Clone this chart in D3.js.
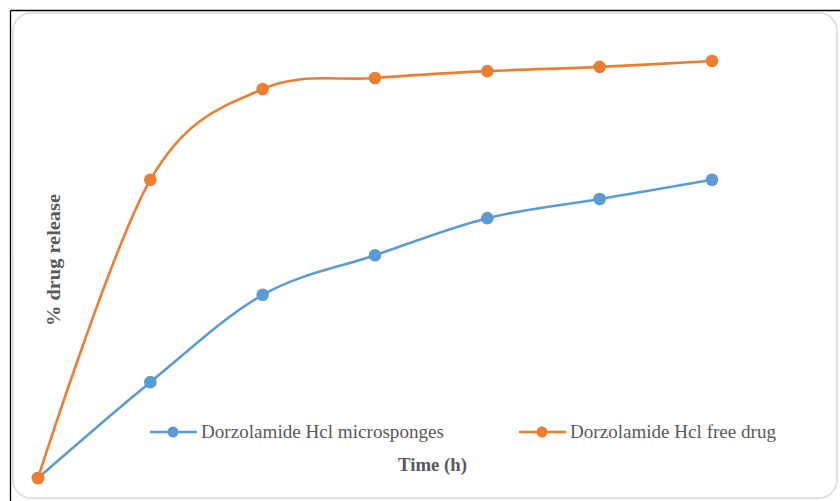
<!DOCTYPE html>
<html>
<head>
<meta charset="utf-8">
<script src="https://cdn.jsdelivr.net/npm/d3@7"></script>
<style>
  html, body { margin: 0; padding: 0; background: #fff; }
  svg { display: block; }
</style>
</head>
<body>
<svg id="chart" width="840" height="501"></svg>
<script>
// Release time points (h)
const hours = [0, 1, 2, 3, 4, 5, 6];
// Cumulative % drug release
const microsponges = [0, 22.5, 43, 52.3, 61, 65.5, 70];
const freeDrug = [0, 70, 91.3, 93.9, 95.5, 96.5, 97.9];
const seriesNames = ["Dorzolamide Hcl microsponges", "Dorzolamide Hcl free drug"];
const seriesColors = ["#5B9BD5", "#ED7D31"];

const svg = d3.select("#chart");
const W = 840, H = 501;

// outer frame lines
svg.append("line").attr("x1", 10.5).attr("x2", W).attr("y1", 10.5).attr("y2", 10.5)
  .attr("stroke", "#000").attr("stroke-width", 1.3);
svg.append("line").attr("x1", 10.5).attr("x2", 10.5).attr("y1", 10.5).attr("y2", H)
  .attr("stroke", "#000").attr("stroke-width", 1.3);

// chart area border
svg.append("rect").attr("x", 13).attr("y", 13).attr("width", 824).attr("height", 485)
  .attr("rx", 18).attr("ry", 18)
  .attr("fill", "#fff").attr("stroke", "#d9d9d9").attr("stroke-width", 1.5);

const x = d3.scalePoint().domain(hours).range([38, 712]);
const y = d3.scaleLinear().domain([0, 100]).range([478, 52]);

const line = d3.line()
  .x((d, i) => x(hours[i]))
  .y(d => y(d))
  .curve(d3.curveCardinal.tension(0));

const data = [microsponges, freeDrug];

data.forEach((vals, s) => {
  const g = svg.append("g");
  g.append("path").datum(vals)
    .attr("d", line)
    .attr("fill", "none")
    .attr("stroke", seriesColors[s])
    .attr("stroke-width", 2.6)
    .attr("stroke-linecap", "round");
  g.selectAll("circle").data(vals).join("circle")
    .attr("cx", (d, i) => x(hours[i]))
    .attr("cy", d => y(d))
    .attr("r", 6.3)
    .attr("fill", seriesColors[s]);
});

// axis titles
const font = "'Liberation Serif', 'DejaVu Serif', serif";
svg.append("text")
  .attr("x", 398).attr("y", 471)
  .attr("font-family", font).attr("font-size", 18).attr("font-weight", "bold")
  .attr("fill", "#595959")
  .attr("textLength", 69).attr("lengthAdjust", "spacingAndGlyphs")
  .text("Time (h)");

svg.append("text")
  .attr("transform", "translate(60,326) rotate(-90)")
  .attr("font-family", font).attr("font-size", 18).attr("font-weight", "bold")
  .attr("fill", "#595959")
  .attr("textLength", 132).attr("lengthAdjust", "spacingAndGlyphs")
  .text("% drug release");

// legend
const legendX = [150, 519];
const legendTextLen = [243, 206];
seriesNames.forEach((name, s) => {
  const lx = legendX[s], ly = 432;
  svg.append("line").attr("x1", lx).attr("x2", lx + 47).attr("y1", ly).attr("y2", ly)
    .attr("stroke", seriesColors[s]).attr("stroke-width", 2.6);
  svg.append("circle").attr("cx", lx + 23).attr("cy", ly).attr("r", 5.5)
    .attr("fill", seriesColors[s]);
  svg.append("text")
    .attr("x", lx + 51).attr("y", ly + 6)
    .attr("font-family", font).attr("font-size", 18)
    .attr("fill", "#595959")
    .attr("textLength", legendTextLen[s]).attr("lengthAdjust", "spacingAndGlyphs")
    .text(name);
});
</script>
</body>
</html>
